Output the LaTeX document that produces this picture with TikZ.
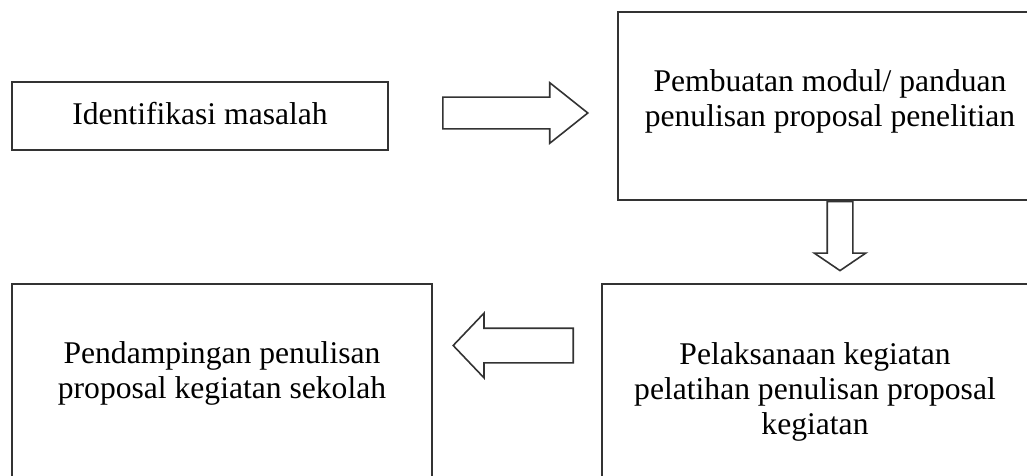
\documentclass[tikz,border=0pt]{standalone}
\usepackage{fontspec}
\setmainfont{Liberation Serif}
\usetikzlibrary{shapes.arrows}
\tikzset{
  boxline/.style={draw=black!80, line width=1.6pt},
  stepbox/.style={boxline, rectangle, inner sep=0pt},
  lbl/.style={align=center, inner sep=0pt, font=\fontsize{31.6}{35}\selectfont},
  blockarrow/.style={boxline, single arrow, single arrow head indent=0pt,
    text height=0pt, text depth=0pt, text width=0pt, inner xsep=0pt, anchor=tail}
}
\begin{document}
\begin{tikzpicture}[x=1pt,y=-1pt]
\useasboundingbox (0,0) rectangle (1027,476);
\clip (0,0) rectangle (1027,476);
% boxes
\node[stepbox, minimum width=376pt, minimum height=68pt] (b1) at (200,116) {};
\node[stepbox, minimum width=422pt, minimum height=188pt] (b2) at (829,106) {};
\node[stepbox, minimum width=426pt, minimum height=230pt] (b3) at (815,399) {};
\node[stepbox, minimum width=420pt, minimum height=230pt] (b4) at (222,399) {};
% texts
\node[lbl] (t1) at (200,114) {Identifikasi masalah};
\node[lbl] (t2) at (830,101) {Pembuatan modul/ panduan\\penulisan proposal penelitian};
\node[lbl] (t3) at (815,392) {Pelaksanaan kegiatan\\pelatihan penulisan proposal\\kegiatan};
\node[lbl] (t4) at (222,373) {Pendampingan penulisan\\proposal kegiatan sekolah};
% block arrows
\node[blockarrow, inner ysep=15pt, minimum height=145pt,
  single arrow head extend=14.5pt, single arrow tip angle=77] (a1) at (442,113) {};
\node[blockarrow, rotate=-90, inner ysep=12pt, minimum height=69pt,
  single arrow head extend=13pt, single arrow tip angle=111.6] (a2) at (b2.south -| 840,0) {};
\node[blockarrow, rotate=180, inner ysep=16.5pt, minimum height=120pt,
  single arrow head extend=15pt, single arrow tip angle=92.8] (a3) at (574,345.5) {};
\end{tikzpicture}
\end{document}
